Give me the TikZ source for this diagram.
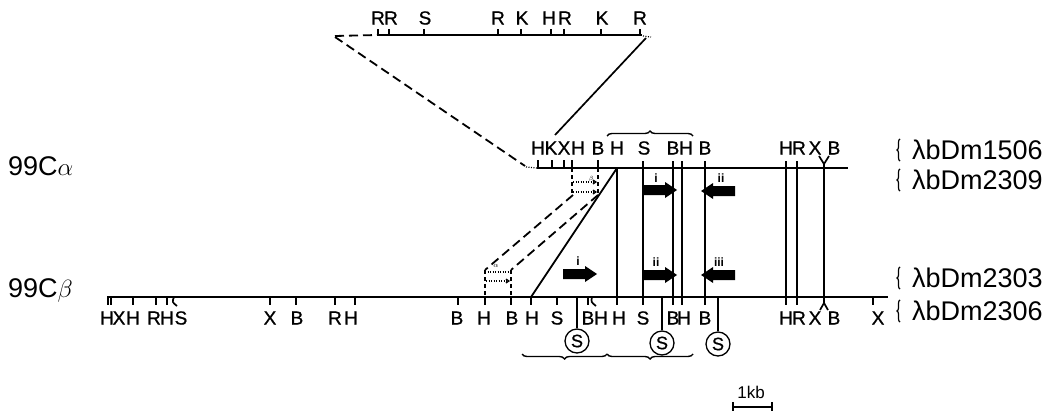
\documentclass[tikz,border=0pt]{standalone}
\usepackage{fontspec}
\setmainfont{Liberation Sans}
\newfontfamily\sitefont{Liberation Sans}[FakeBold=0.8]
\usetikzlibrary{decorations.pathreplacing,arrows.meta}

\tikzset{
  site/.style={font=\fontsize{19}{19}\sitefont, inner sep=0pt},
  big/.style={font=\fontsize{27}{27}\selectfont, inner sep=0pt, anchor=west},
  roman/.style={font=\fontsize{12}{12}\selectfont\bfseries, inner sep=0pt},
  mapline/.style={line width=2.8pt},
  tk/.style={line width=1.7pt},
  vl/.style={line width=2pt},
  dsh/.style={line width=1.8pt, dash pattern=on 9pt off 5pt},
  shortdsh/.style={line width=1.5pt, dash pattern=on 4pt off 3pt},
  dotl/.style={line width=1.2pt, dash pattern=on 1pt off 1.5pt},
  dotarr/.style={dotl, -{Straight Barb[length=3pt,width=4pt]}},
  ring/.style={circle, draw, line width=1.3pt, minimum size=24pt, inner sep=0pt, font=\fontsize{18}{18}\sitefont},
  brc/.style={decorate, decoration={brace, amplitude=5pt}, line width=1.4pt},
  ubrc/.style={decorate, decoration={brace, mirror, amplitude=5pt}, line width=1.4pt},
  sbrc/.style={decorate, decoration={brace, amplitude=3pt}, line width=1.2pt},
  rblock/.pic={\fill (-17,-5) -- (5,-5) -- (5,-8) -- (17,0) -- (5,8) -- (5,5) -- (-17,5) -- cycle;},
  lblock/.pic={\fill (17,-5) -- (-5,-5) -- (-5,-8) -- (-17,0) -- (-5,8) -- (-5,5) -- (17,5) -- cycle;},
}

\begin{document}
\begin{tikzpicture}[x=1pt,y=-1pt]
\useasboundingbox (0,0) rectangle (1056,415);

% ---------- enlarged segment at the top ----------
\draw[mapline,line width=2.4pt] (377,35) -- (642,35);
\draw[dsh] (335,36) -- (377,35);
\draw[dotl] (643,36) -- (651,37);
\foreach \x/\l/\lx in {378/R/378, 389/R/391, 424/S/425, 498/R/498, 521/K/522,
                       551/H/549, 564/R/565, 601/K/602, 640/R/640}{
  \draw[tk] (\x,35) -- (\x,29);
  \node[site] (top\x) at (\lx,18) {\l};
}
\coordinate (inL) at (335,37);
\coordinate (inR) at (646,38);
\coordinate (inLend) at (525,166);
\coordinate (inRend) at (555,135);
\draw[dsh] (inL) -- (inLend);
\draw[line width=1.7pt] (inR) -- (inRend);

% ---------- 99C alpha ----------
\node[big] (alpha) at (8,166) {99C$\alpha$};
\draw[mapline] (537,168) -- (848,168);
\draw[dotl] (526,167) -- (537,168);
\foreach \x in {538,552,564,572,598}
  \draw[tk] (\x,168) -- (\x,160);
\foreach \x/\l in {538/H,551/K,564/X,578/H,598/B,617/H,644/S,673/B,686/H,705/B,786/H,799/R,815/X,834/B}
  \node[site] (a\x) at (\x,148) {\l};

% long lines shared by both maps
\draw[vl] (617,168) -- (617,305);
\foreach \x in {643,673,682,705,786,797}
  \draw[vl] (\x,161) -- (\x,305);
\draw[vl] (824,164) -- (824,303);
\draw[tk] (819,156) -- (824,164) -- (829,156);
\draw[tk] (820,310) -- (824,303) -- (828,310);

% overlapping region under the alpha map
\draw[shortdsh] (572,168) -- (572,195);
\draw[shortdsh] (598,168) -- (598,195);
\draw[dotarr] (573,182) -- (597,182);
\draw[dotarr] (573,192) -- (597,192);
\node[font=\fontsize{6}{6}\selectfont, inner sep=0pt] (smallb) at (591,179) {$\beta$};

% transcripts on alpha
\pic at (660,190) {rblock};
\node[roman] (ai) at (656,178) {i};
\pic at (718,191) {lblock};
\node[roman] (aii) at (721,178) {ii};

\draw[brc] (607,136) -- (693,136);

% ---------- 99C beta ----------
\node[big] (beta) at (8,290) {99C$\beta$};
\draw[mapline] (107,297) -- (888,297);
\foreach \x in {108,111,133,156,167,270,296,335,355,458,485,511,531,557,588,873}
  \draw[tk] (\x,297) -- (\x,305);
\draw[tk] (174,297) .. controls (172,302) .. (177,306);
\draw[tk] (592,297) .. controls (591,302) .. (596,306);
\foreach \x/\l in {107/H,119/X,133/H,154/R,167/H,181/S,270/X,297/B,335/R,351/H,
                   457/B,484/H,512/B,532/H,557/S,588/B,601/H,619/H,643/S,673/B,
                   684/H,705/B,786/H,799/R,815/X,834/B,878/X}
  \node[site] (b\x) at (\x,318) {\l};

% overlapping region above the beta map
\draw[shortdsh] (485,270) -- (485,297);
\draw[shortdsh] (511,270) -- (511,297);
\draw[dotl,line width=1.5pt] (485,272) -- (510,272);
\draw[dotarr] (486,281) -- (510,281);
\node[font=\fontsize{7}{7}\selectfont, inner sep=0pt] (smalla) at (496,266) {$\alpha$};

% correspondence between the maps
\coordinate (ua) at (573,195);
\coordinate (ub) at (598,195);
\coordinate (la) at (485,270);
\coordinate (lb) at (511,270);
\draw[dsh] (ua) -- (la);
\draw[dsh] (ub) -- (lb);
\draw[line width=1.8pt] (617,168) -- (531,297);

% transcripts on beta
\pic at (580,274) {rblock};
\node[roman] (bi) at (578,261) {i};
\pic at (660,275) {rblock};
\node[roman] (bii) at (656,262) {ii};
\pic at (718,275) {lblock};
\node[roman] (biii) at (719,262) {iii};

% SalI sites
\node[ring] (s1) at (577,341) {S};
\node[ring] (s2) at (662,343) {S};
\node[ring] (s3) at (718,344) {S};
\draw[vl] (577,297) -- (s1.north);
\draw[vl] (662,297) -- (s2.north);
\draw[vl] (718,297) -- (s3.north);

\draw[ubrc] (522,354) -- (607,354);
\draw[ubrc] (607,354) -- (693,354);

% ---------- clone names ----------
\foreach \y/\t in {150/1506, 180/2309, 278/2303, 311/2306}{
  \draw[sbrc] (900,\y+11) -- (900,\y-11);
  \node[big] (c\t) at (912,\y) {λbDm\t};
}

% ---------- scale ----------
\draw[tk] (733,407) -- (772,407);
\draw[tk] (733,402) -- (733,411);
\draw[tk] (772,402) -- (772,411);
\node[font=\fontsize{17}{17}\selectfont, inner sep=0pt] (kb) at (751,392) {1kb};
\end{tikzpicture}
\end{document}
